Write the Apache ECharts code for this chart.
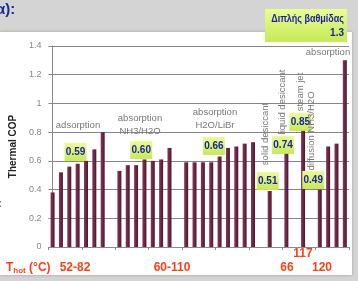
<!DOCTYPE html>
<html>
<head>
<meta charset="utf-8">
<script src="https://cdn.jsdelivr.net/npm/echarts@6/dist/echarts.min.js"></script>
<style>
  html, body { margin: 0; padding: 0; background: #d4d4d4; }
  #chart { width: 358px; height: 281px; }
</style>
</head>
<body>
<div id="chart"></div>
<script>
// thermal COP, one entry per slot on the x axis (null = empty slot)
var cop = [
  0.38, 0.52, 0.56, 0.58, 0.60, 0.68, 0.80, null,
  0.53, 0.57, 0.57, 0.61, 0.60, 0.61, 0.69, null,
  0.59, 0.59, 0.59, 0.59, 0.63, 0.69, 0.70, 0.72, 0.73, null,
  0.39, null, 0.70, null, 0.85, null, 0.40, 0.70, 0.72, 1.30
];
var slots = cop.map(function (v, i) { return 's' + (i + 1); });

// average COP written in the green boxes
var avgText = ['0.59', '0.60', '0.66', '0.51', '0.74', '0.85', '0.49'];

// y axis
var yMin = 0, yMax = 1.4, yStep = 0.2;

// where each green box sits (slot index, COP)
var boxAt = [[2.75, 0.662], [10.62, 0.676], [19.32, 0.704], [25.77, 0.46],
             [27.6, 0.711], [29.68, 0.871], [31.22, 0.467]];

var FONT = '"Liberation Sans", Arial, sans-serif';
var GREY = '#777777';
var BLUE = '#1a22a8';
var RED = '#ff3f0f';

var chart = echarts.init(document.getElementById('chart'));

function txt(x, y, s, opt) {
  opt = opt || {};
  var st = {
    text: s, fill: GREY, font: '9.5px ' + FONT,
    align: 'center', verticalAlign: 'middle'
  };
  for (var k in opt) { if (k !== 'rotation' && k !== 'scaleX') st[k] = opt[k]; }
  return { type: 'text', x: x, y: y, z: 100, rotation: opt.rotation || 0,
           scaleX: opt.scaleX || 1, style: st };
}
function redTxt(x, y, s) {
  return txt(x, y, s, { fill: RED, font: 'bold 12px ' + FONT });
}

var greenFill = new echarts.graphic.LinearGradient(0, 0, 0, 1, [
  { offset: 0, color: '#ebfc95' }, { offset: 1, color: '#c6ea55' }
]);

chart.setOption({
  backgroundColor: '#d4d4d4',
  animation: false,
  grid: { left: 45, right: 9, top: 46, bottom: 34 },
  xAxis: [{
    type: 'category',
    data: slots,
    axisLine: { lineStyle: { color: '#8a8a8a' } },
    axisTick: { show: true, length: 3, lineStyle: { color: '#8a8a8a' } },
    axisLabel: { show: false }
  }, {
    type: 'value', show: false, min: -0.5, max: slots.length - 0.5
  }],
  yAxis: {
    type: 'value',
    min: yMin, max: yMax, interval: yStep,
    name: 'Thermal COP',
    nameLocation: 'middle',
    nameGap: 30,
    nameRotate: 90,
    nameTextStyle: { color: '#222', fontSize: 10, fontWeight: 'bold', fontFamily: FONT },
    axisLine: { show: true, lineStyle: { color: '#8a8a8a' } },
    axisTick: { show: true, length: 3, lineStyle: { color: '#8a8a8a' } },
    axisLabel: { color: '#858585', fontSize: 9, fontFamily: FONT, margin: 7 },
    splitLine: { lineStyle: { color: '#868686', width: 1 } }
  },
  series: [{
    type: 'bar',
    data: cop,
    barWidth: 4,
    itemStyle: {
      color: new echarts.graphic.LinearGradient(0, 0, 1, 0, [
        { offset: 0, color: '#843858' }, { offset: 1, color: '#521530' }
      ])
    },
    z: 3
  }, {
    type: 'scatter',
    xAxisIndex: 1,
    data: avgText.map(function (t, i) { return [boxAt[i][0], boxAt[i][1], t]; }),
    symbol: 'rect',
    symbolSize: [22, 18],
    itemStyle: { color: greenFill, opacity: 1 },
    label: {
      show: true, position: 'inside',
      formatter: function (p) { return p.value[2]; },
      color: BLUE, fontSize: 10, fontWeight: 'bold', fontFamily: FONT
    },
    z: 5
  }],
  graphic: [
    // white slide panel
    { type: 'rect', z: -10, shape: { x: 0, y: 32, width: 352, height: 243 },
      style: { fill: '#ffffff', shadowBlur: 3, shadowColor: 'rgba(0,0,0,0.25)' } },
    // bits of slide text
    txt(-4, 10, 'α):', { fill: '#1b2a8e', font: 'bold 15px ' + FONT, align: 'left' }),
    txt(-2, 204, ':', { fill: '#1b2a8e', font: 'bold 11px ' + FONT, align: 'left' }),
    // green note box top right
    { type: 'rect', z: 90, shape: { x: 265, y: 9, width: 82, height: 33 },
      style: { fill: greenFill } },
    txt(344, 19, 'Διπλής βαθμίδας', { fill: BLUE, font: 'bold 10px ' + FONT, align: 'right', scaleX: 0.9 }),
    txt(344, 33, '1.3', { fill: BLUE, font: 'bold 10px ' + FONT, align: 'right' }),
    // group names
    txt(78, 125, 'adsorption'),
    txt(140, 118, 'absorption'),
    txt(140, 131, 'NH3/H2O'),
    txt(215, 112, 'absorption'),
    txt(215, 125, 'H2O/LiBr'),
    txt(328, 52, 'absorption'),
    txt(265, 134, 'solid desiccant', { rotation: Math.PI / 2 }),
    txt(282, 102, 'liquid desiccant', { rotation: Math.PI / 2 }),
    txt(300, 92, 'steam jet', { rotation: Math.PI / 2 }),
    txt(311, 131, 'diffusion NH3/H2O', { rotation: Math.PI / 2 }),
    // heat source temperatures
    {
      type: 'text', x: 6, y: 268, z: 100,
      style: {
        text: '{a|T}{b|hot}{a| (°C)}',
        verticalAlign: 'middle',
        rich: {
          a: { fill: RED, font: 'bold 12px ' + FONT },
          b: { fill: RED, font: 'bold 8px ' + FONT, padding: [6, 0, 0, 0] }
        }
      }
    },
    redTxt(75, 268, '52-82'),
    redTxt(172, 268, '60-110'),
    redTxt(287, 268, '66'),
    redTxt(303, 254, '117'),
    redTxt(322, 268, '120')
  ]
});
</script>
</body>
</html>
